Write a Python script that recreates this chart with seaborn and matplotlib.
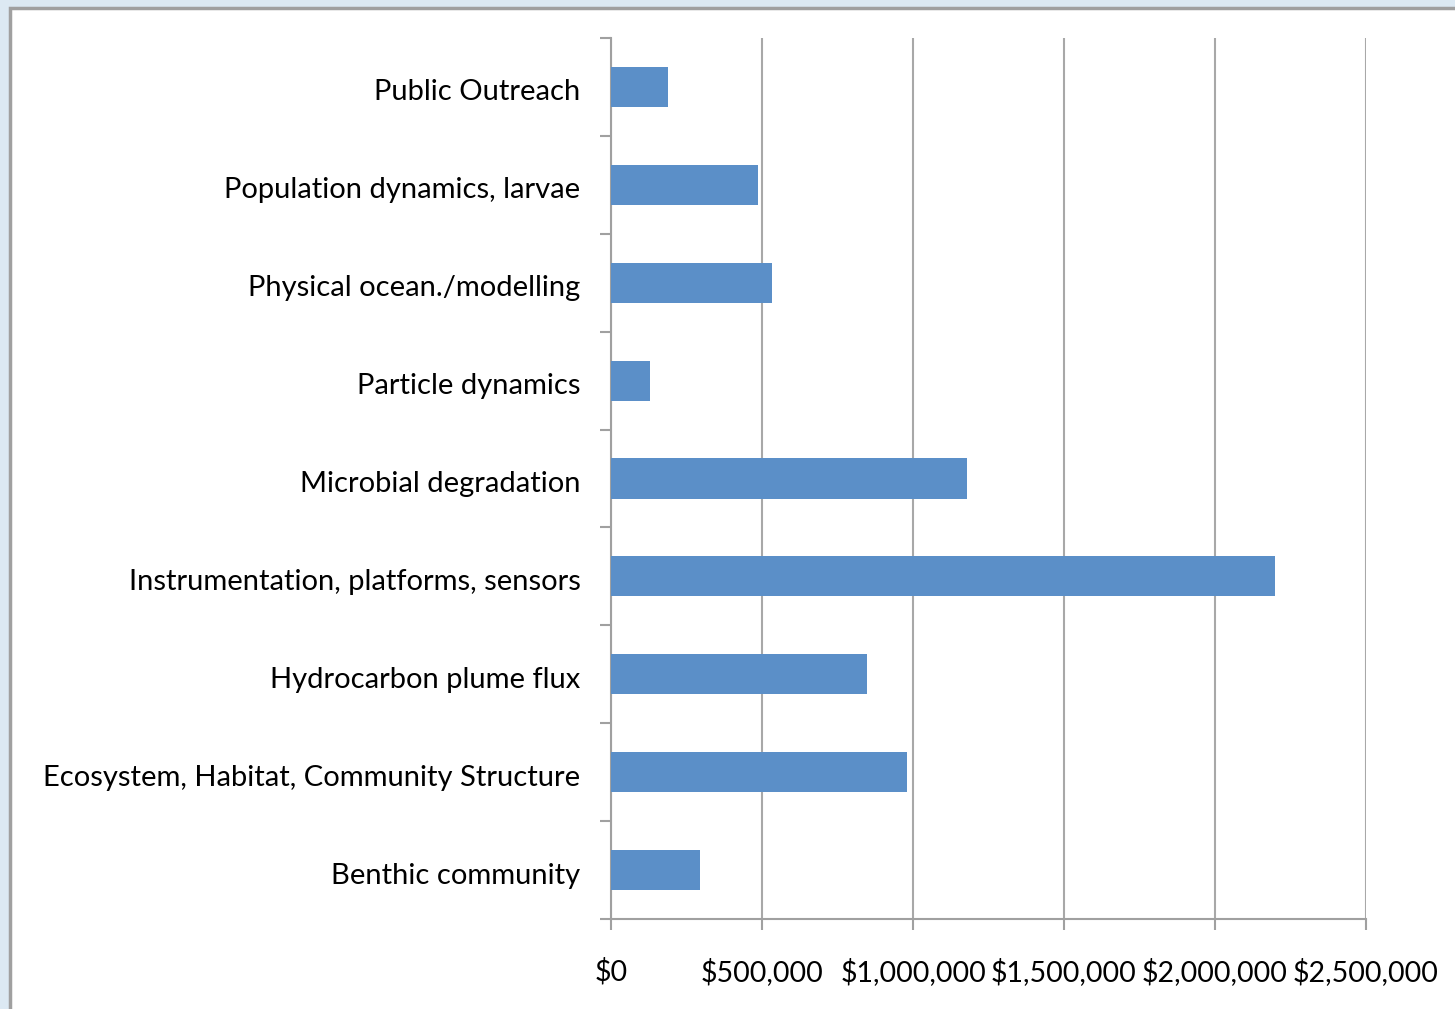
import matplotlib
matplotlib.use("Agg")
import matplotlib.pyplot as plt
import matplotlib.transforms as mtransforms
import seaborn as sns
import pandas as pd
import numpy as np
from matplotlib.patches import Rectangle
from matplotlib.ticker import FuncFormatter, MultipleLocator

categories = [
    "Public Outreach",
    "Population dynamics, larvae",
    "Physical ocean./modelling",
    "Particle dynamics",
    "Microbial degradation",
    "Instrumentation, platforms, sensors",
    "Hydrocarbon plume flux",
    "Ecosystem, Habitat, Community Structure",
    "Benthic community",
]
funding = [190000, 487000, 533000, 128000, 1178000, 2199000, 848000, 980000, 295000]

df = pd.DataFrame({"category": categories, "funding": funding})

sns.set_theme(style="white")
plt.rcParams["font.family"] = ["Lato", "DejaVu Sans"]

fig = plt.figure(figsize=(14.55, 10.09), dpi=100)
fig.patch.set_facecolor("#dce9f3")

# background axes holding the white panel with grey border
bg = fig.add_axes([0, 0, 1, 1], zorder=-10)
bg.set_axis_off()
bg.set_xlim(0, 1455)
bg.set_ylim(1009, 0)
bg.add_patch(Rectangle((10, 8), 1500, 1100, facecolor="white",
                       edgecolor="#a0a0a0", linewidth=2.5))

ax = fig.add_axes([611/1455, 1 - 919/1009, (1366 - 611)/1455, (919 - 38)/1009], zorder=1)
ax.set_facecolor("none")

sns.barplot(data=df, x="funding", y="category", order=categories, orient="h",
            color="#5b8fc8", saturation=1, width=0.41, linewidth=0, ax=ax, zorder=3)

ax.set_xlim(0, 2500000)
ax.set_ylim(len(categories) - 0.5, -0.5)
ax.xaxis.set_major_locator(MultipleLocator(500000))
ax.xaxis.set_major_formatter(FuncFormatter(lambda v, p: f"${v:,.0f}"))
ax.grid(axis="x", color="#a8a8a8", linewidth=1.5, zorder=0)
ax.set_axisbelow(True)

for s in ["top", "right"]:
    ax.spines[s].set_visible(False)
for s in ["left", "bottom"]:
    ax.spines[s].set_color("#a0a0a0")
    ax.spines[s].set_linewidth(1.5)

ax.set_xlabel("")
ax.set_ylabel("")

ax.tick_params(axis="y", which="major", left=False, length=0, pad=22,
               labelsize=21, labelcolor="black")
ax.set_yticks(np.arange(-0.5, len(categories), 1.0), minor=True)
ax.tick_params(axis="y", which="minor", left=True, length=8, width=1.5,
               color="#a0a0a0", direction="out")
ax.tick_params(axis="x", which="major", bottom=True, length=8, width=1.5,
               color="#a0a0a0", direction="out", pad=20, labelsize=20.5,
               labelcolor="black")

shift = mtransforms.ScaledTranslation(0, -3/100, fig.dpi_scale_trans)
for lab in ax.get_yticklabels():
    lab.set_transform(lab.get_transform() + shift)

fig.savefig("out.png", dpi=100, facecolor=fig.get_facecolor())
